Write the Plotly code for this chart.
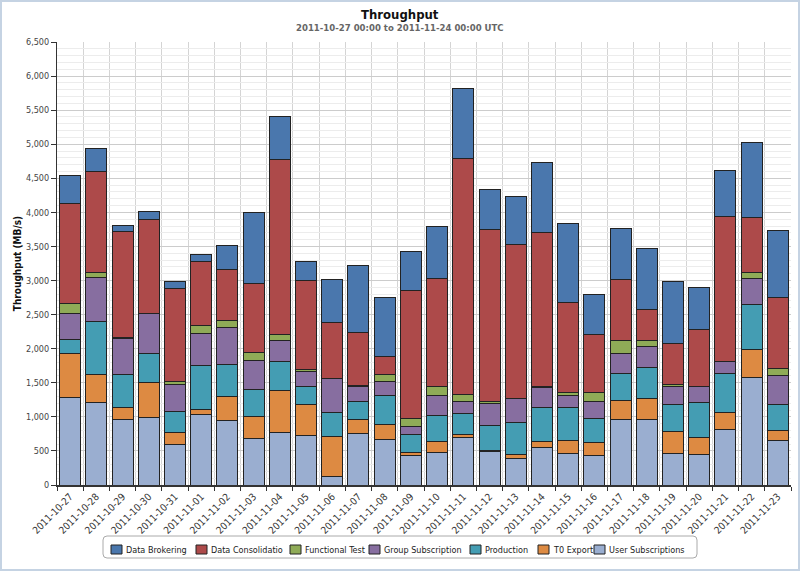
import plotly.graph_objects as go

dates = ["2011-10-27", "2011-10-28", "2011-10-29", "2011-10-30", "2011-10-31",
         "2011-11-01", "2011-11-02", "2011-11-03", "2011-11-04", "2011-11-05",
         "2011-11-06", "2011-11-07", "2011-11-08", "2011-11-09", "2011-11-10",
         "2011-11-11", "2011-11-12", "2011-11-13", "2011-11-14", "2011-11-15",
         "2011-11-16", "2011-11-17", "2011-11-18", "2011-11-19", "2011-11-20",
         "2011-11-21", "2011-11-22", "2011-11-23"]

user_subscriptions = [1278, 1204, 955, 984, 587, 1038, 940, 676, 764, 720, 122, 749, 661, 426,
                      470, 690, 485, 382, 543, 455, 426, 955, 955, 455, 441, 808, 1571, 646]
t0_export = [646, 411, 186, 514, 177, 63, 352, 323, 616, 455, 583, 206, 220, 44,
             161, 44, 14, 59, 88, 191, 191, 279, 308, 323, 249, 249, 411, 147]
production = [215, 779, 474, 426, 308, 647, 470, 396, 426, 264, 352, 264, 426, 264,
              382, 309, 367, 469, 500, 485, 352, 396, 455, 397, 514, 573, 661, 382]
group_subscription = [382, 646, 529, 597, 397, 479, 544, 426, 309, 220, 500, 220, 206, 118,
                      294, 176, 323, 353, 293, 176, 250, 294, 309, 264, 235, 176, 382, 426]
functional_test = [137, 73, 20, 0, 44, 108, 102, 117, 88, 30, 0, 15, 102, 117,
                   132, 103, 30, 0, 15, 44, 132, 191, 88, 30, 0, 0, 88, 102]
data_consolidation = [1478, 1484, 1551, 1371, 1365, 940, 749, 1014, 2570, 1307, 822, 778, 265, 1880,
                      1586, 3465, 2526, 2261, 2262, 1322, 852, 895, 455, 602, 837, 2130, 808, 1043]
data_brokering = [402, 342, 88, 117, 103, 103, 353, 1042, 631, 279, 631, 984, 866, 573,
                  764, 1028, 587, 705, 1028, 1160, 587, 749, 896, 910, 617, 675, 1101, 984]

series_names = ["User Subscriptions", "T0 Export", "Production", "Group Subscription",
                "Functional Test", "Data Consolidation", "Data Brokering"]
series_values = [user_subscriptions, t0_export, production, group_subscription,
                 functional_test, data_consolidation, data_brokering]
series_colors = ["#9aaed0", "#dd8a42", "#449db3", "#876ea0", "#8fab57", "#ad4a4a", "#4a77ad"]

# Legend as it appears in the original (labels clipped by the next swatch)
legend_order = ["Data Brokering", "Data Consolidation", "Functional Test", "Group Subscription",
                "Production", "T0 Export", "User Subscriptions"]
legend_labels = ["Data Brokering", "Data Consolidatio", "Functional Test", "Group Subscription",
                 "Production", "T0 Export", "User Subscriptions"]

FONT = "DejaVu Sans Condensed, Liberation Sans Narrow, DejaVu Sans"

# pixel geometry of the plot area
L, R, T, B = 57, 791, 42, 485
W, H = R - L, B - T


def px(xp):
    return (xp - L) / W


def py(yp):
    return (B - yp) / H


x = list(range(len(dates)))
fig = go.Figure()
for name, vals, color in zip(series_names, series_values, series_colors):
    fig.add_trace(go.Bar(
        x=x, y=vals, name=name, width=0.8,
        marker=dict(color=color, line=dict(color="#222222", width=1)),
        hovertext=dates, hovertemplate="%{hovertext}<br>" + name + ": %{y:,} MB/s<extra></extra>",
    ))

shapes = [
    # outer frame
    dict(type="rect", xref="paper", yref="paper",
         x0=px(1), x1=px(799), y0=py(570), y1=py(1),
         line=dict(color="#c5d3e3", width=2), layer="below"),
]
# legend box (rounded)
lx0, lx1, ly0, ly1, r = 103, 697, 536, 558, 4
path = (f"M {px(lx0 + r)} {py(ly0)} L {px(lx1 - r)} {py(ly0)} "
        f"Q {px(lx1)} {py(ly0)} {px(lx1)} {py(ly0 + r)} "
        f"L {px(lx1)} {py(ly1 - r)} Q {px(lx1)} {py(ly1)} {px(lx1 - r)} {py(ly1)} "
        f"L {px(lx0 + r)} {py(ly1)} Q {px(lx0)} {py(ly1)} {px(lx0)} {py(ly1 - r)} "
        f"L {px(lx0)} {py(ly0 + r)} Q {px(lx0)} {py(ly0)} {px(lx0 + r)} {py(ly0)} Z")
shapes.append(dict(type="path", xref="paper", yref="paper", path=path,
                   line=dict(color="#aaaaaa", width=1), fillcolor="white"))

annotations = [
    dict(text="<b>Throughput</b>", xref="paper", yref="paper",
         x=px(400), y=py(14), xanchor="center", yanchor="middle",
         showarrow=False, font=dict(size=13, color="#111111", family=FONT)),
    dict(text="<b>2011-10-27 00:00 to 2011-11-24 00:00 UTC</b>", xref="paper", yref="paper",
         x=px(400), y=py(27), xanchor="center", yanchor="middle",
         showarrow=False, font=dict(size=9.5, color="#666666", family=FONT)),
]

swatch_left = [111, 196, 290, 369, 470, 538, 594]
color_of = dict(zip(series_names, series_colors))
for sx, name, label in zip(swatch_left, legend_order, legend_labels):
    shapes.append(dict(type="rect", xref="paper", yref="paper",
                       x0=px(sx), x1=px(sx + 11), y0=py(554), y1=py(545),
                       fillcolor=color_of[name], line=dict(color="#222222", width=1)))
    annotations.append(dict(text=label, xref="paper", yref="paper",
                            x=px(sx + 12.5), y=py(549.5), xanchor="left", yanchor="middle",
                            showarrow=False, font=dict(size=9, color="#222222", family=FONT)))

fig.update_layout(
    barmode="stack",
    width=800, height=571,
    margin=dict(l=L, r=800 - R, t=T, b=571 - B),
    paper_bgcolor="white", plot_bgcolor="white",
    font=dict(family=FONT, size=10, color="#333333"),
    showlegend=False,
    shapes=shapes,
    annotations=annotations,
)

fig.update_xaxes(
    range=[-0.5, 27.5],
    tickmode="array", tickvals=x, ticktext=dates, tickangle=-45,
    showgrid=False, ticks="",
    showline=True, linecolor="#333333", linewidth=2,
    minor=dict(tick0=0.5, dtick=1, showgrid=True, gridcolor="#d4d4d4", gridwidth=1,
               ticks="outside", ticklen=4, tickcolor="#333333"),
    tickfont=dict(size=10, color="#333333", family=FONT),
    zeroline=False,
)

fig.update_yaxes(
    range=[0, 6500], dtick=500, tick0=0, tickformat=",",
    showgrid=True, gridcolor="#cccccc", gridwidth=1,
    minor=dict(dtick=100, showgrid=True, gridcolor="#ececec", gridwidth=1),
    ticks="outside", ticklen=5, tickcolor="#333333",
    showline=True, linecolor="#333333", linewidth=1,
    mirror=False, zeroline=False,
    title=dict(text="<b>Throughput (MB/s)</b>", font=dict(size=10, color="#111111", family=FONT), standoff=2),
    tickfont=dict(size=9, color="#444444", family=FONT),
)

fig.write_html("out.html")
